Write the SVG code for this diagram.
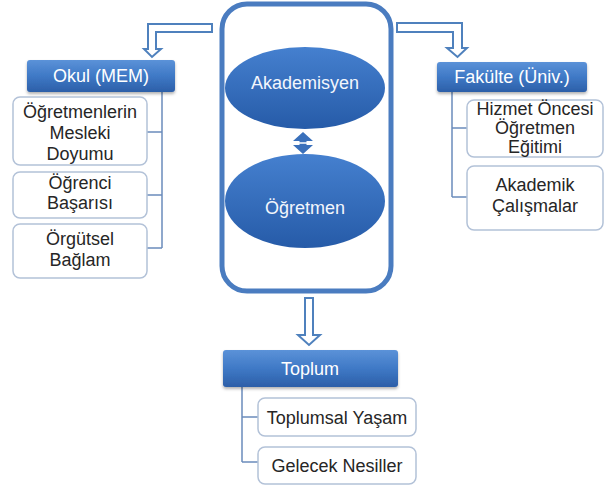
<svg xmlns="http://www.w3.org/2000/svg" width="607" height="488" viewBox="0 0 607 488">
<defs>
<linearGradient id="hdr" x1="0" y1="0" x2="0" y2="1">
<stop offset="0" stop-color="#5b92d8"/>
<stop offset="0.5" stop-color="#3f79c6"/>
<stop offset="1" stop-color="#2c5fa8"/>
</linearGradient>
<linearGradient id="ell" x1="0" y1="0" x2="0" y2="1">
<stop offset="0" stop-color="#4580cf"/>
<stop offset="1" stop-color="#265ba8"/>
</linearGradient>
<filter id="sh" x="-10%" y="-20%" width="120%" height="150%">
<feDropShadow dx="0" dy="2" stdDeviation="1.5" flood-color="#000" flood-opacity="0.3"/>
</filter>
</defs>
<style>
.hdr{fill:url(#hdr);filter:url(#sh)}
.ht{font-family:"Liberation Sans",Arial,sans-serif;font-size:18px;fill:#fff;text-anchor:middle}
.box{fill:#fff;stroke:#b3c2d8;stroke-width:1.5}
.bt{font-family:"Liberation Sans",Arial,sans-serif;font-size:18px;fill:#262626;text-anchor:middle}
.con{fill:none;stroke:#6b8cbc;stroke-width:1.5}
.arr{fill:#fff;stroke:#4f81bd;stroke-width:2;stroke-linejoin:miter}
.et{font-family:"Liberation Sans",Arial,sans-serif;font-size:18px;fill:#f2f6fc;text-anchor:middle}
</style>
<rect width="607" height="488" fill="#fff"/>
<g id="connectors">
<path class="arr" d="M212,24 L148,24 L148,49 L144,49 L152,57 L161,49 L156,49 L156,32 L212,32 Z"/>
<path class="arr" d="M397,23 L462,23 L462,48 L467,48 L457.5,57 L447,48 L453,48 L453,32 L397,32 Z"/>
<path class="arr" d="M305,298 L313,298 L313,335 L320,335 L309,345 L298,335 L305,335 Z"/>
<path class="con" d="M162,92 V248 M147,132 H162 M147,195 H162 M147,248 H162"/>
<path class="con" d="M452,92 V197 M452,128 H467 M452,197 H467"/>
<path class="con" d="M242,387 V462 M242,417 H258 M242,462 H258"/>
</g>
<g id="center">
<rect x="222" y="4" width="169" height="287" rx="25" fill="#fff" stroke="#4a7cc0" stroke-width="5"/>
</g>
<g id="akademisyen">
<ellipse cx="305" cy="88" rx="80" ry="41" fill="url(#ell)"/>
<text class="et" x="305" y="89">Akademisyen</text>
</g>
<g id="ogretmen">
<ellipse cx="305" cy="201" rx="80" ry="47" fill="url(#ell)"/>
<text class="et" x="305" y="214">Öğretmen</text>
</g>
<g id="double-arrow">
<path d="M303,132 L313,141 L306.5,141 L306.5,145 L313,145 L303,154 L293,145 L299.5,145 L299.5,141 L293,141 Z" fill="#3a70bb"/>
<line x1="297" y1="143" x2="309" y2="143" stroke="#fff" stroke-width="1.5"/>
</g>
<g id="okul">
<rect class="hdr" x="27" y="60" width="148" height="32" rx="3"/>
<text class="ht" x="101" y="82">Okul (MEM)</text>
</g>
<g id="okul-1">
<rect class="box" x="13" y="97" width="134" height="68" rx="7"/>
<text class="bt" x="80" y="118">Öğretmenlerin</text>
<text class="bt" x="80" y="139">Mesleki</text>
<text class="bt" x="80" y="160">Doyumu</text>
</g>
<g id="okul-2">
<rect class="box" x="13" y="172" width="134" height="46" rx="7"/>
<text class="bt" x="80" y="189">Öğrenci</text>
<text class="bt" x="80" y="209">Başarısı</text>
</g>
<g id="okul-3">
<rect class="box" x="13" y="224" width="134" height="54" rx="7"/>
<text class="bt" x="80" y="245">Örgütsel</text>
<text class="bt" x="80" y="266">Bağlam</text>
</g>
<g id="fakulte">
<rect class="hdr" x="437" y="62" width="150" height="30" rx="3"/>
<text class="ht" x="512" y="83">Fakülte (Üniv.)</text>
</g>
<g id="fakulte-1">
<rect class="box" x="467" y="100" width="136" height="57" rx="7"/>
<text class="bt" x="535" y="115">Hizmet Öncesi</text>
<text class="bt" x="535" y="134">Öğretmen</text>
<text class="bt" x="535" y="153">Eğitimi</text>
</g>
<g id="fakulte-2">
<rect class="box" x="467" y="166" width="136" height="64" rx="7"/>
<text class="bt" x="535" y="191">Akademik</text>
<text class="bt" x="535" y="212">Çalışmalar</text>
</g>
<g id="toplum">
<rect class="hdr" x="223" y="350" width="175" height="37" rx="3"/>
<text class="ht" x="310" y="375">Toplum</text>
</g>
<g id="toplum-1">
<rect class="box" x="258" y="398" width="158" height="38" rx="7"/>
<text class="bt" x="337" y="424">Toplumsal Yaşam</text>
</g>
<g id="toplum-2">
<rect class="box" x="258" y="447" width="158" height="37" rx="7"/>
<text class="bt" x="337" y="472">Gelecek Nesiller</text>
</g>
</svg>
